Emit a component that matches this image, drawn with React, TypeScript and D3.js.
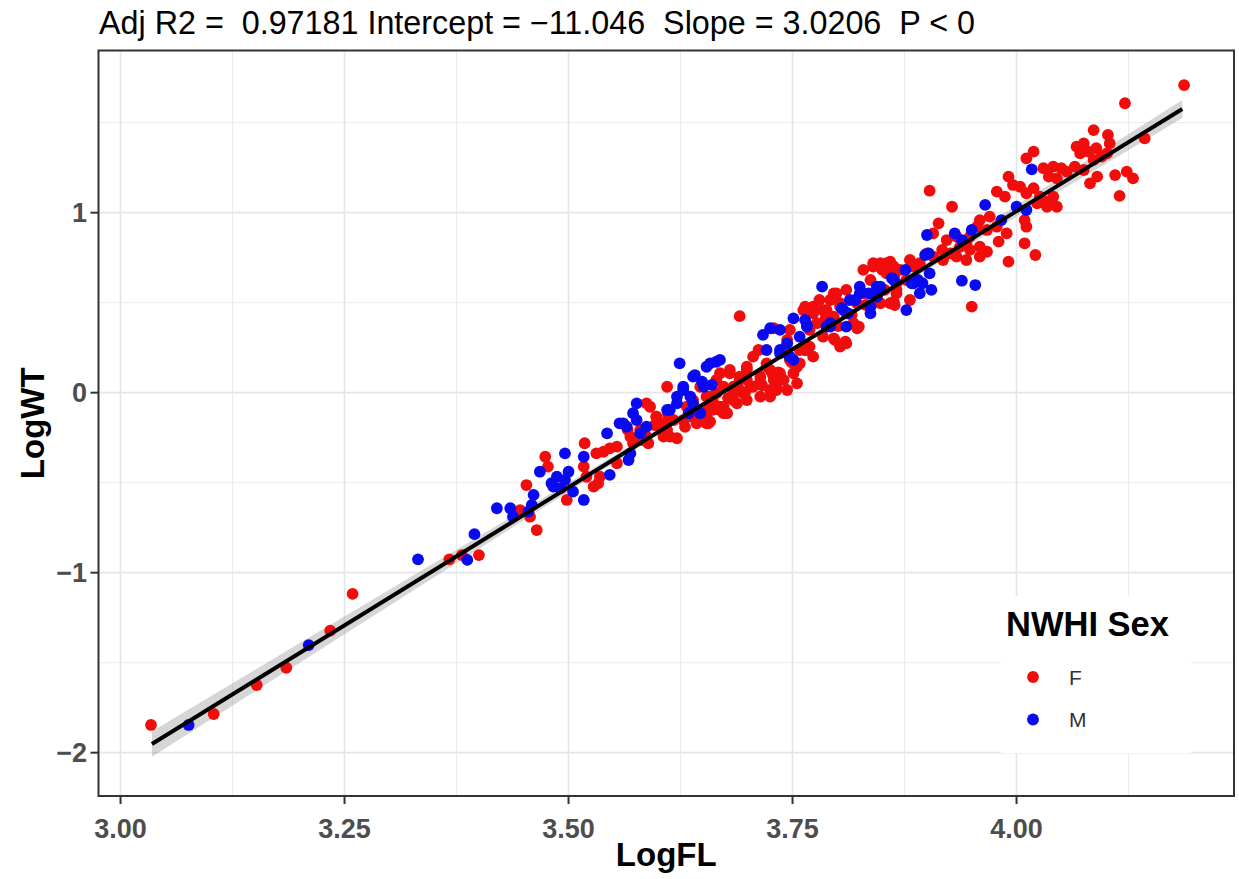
import React from "react";
import * as d3 from "d3";

// ---------- data ----------
const xTickValues = [3.0, 3.25, 3.5, 3.75, 4.0];
const xTickLabels = ["3.00", "3.25", "3.50", "3.75", "4.00"];
const xMinorValues = [3.125, 3.375, 3.625, 3.875, 4.125];
const yTickValues = [-2, -1, 0, 1];
const yTickLabels = ["\u22122", "\u22121", "0", "1"];
const yMinorValues = [-1.5, -0.5, 0.5, 1.5];
const xDomain = [2.9754, 4.2427];
const yDomain = [-2.2406, 1.901];

const titleText = "Adj R2 =  0.97181 Intercept = \u221211.046  Slope = 3.0206  P < 0";
const legendTitle = "NWHI Sex";
const sexLevels = ["F", "M"];

// [LogFL, LogWT]
const femalePts: [number, number][] = [
  [3.034, -1.846], [3.104, -1.785], [3.152, -1.624], [3.185, -1.528], [3.234, -1.322], [3.259, -1.118],
  [3.367, -0.926], [3.381, -0.902], [3.4, -0.902], [3.4645, -0.763],
  [3.446, -0.652], [3.457, -0.689], [3.453, -0.513], [3.474, -0.356], [3.477, -0.411], [3.498, -0.596],
  [3.518, -0.281], [3.517, -0.411], [3.52, -0.467], [3.528, -0.522], [3.533, -0.503], [3.535, -0.467],
  [3.531, -0.337], [3.539, -0.328], [3.546, -0.309], [3.554, -0.3], [3.554, -0.392], [3.569, -0.244],
  [3.572, -0.281], [3.58, -0.207], [3.587, -0.244], [3.589, -0.281], [3.591, -0.078], [3.598, -0.133],
  [3.606, -0.17], [3.61, -0.207], [3.606, -0.244], [3.61, 0.033], [3.621, -0.253], [3.617, -0.152],
  [3.628, -0.152], [3.636, -0.133], [3.647, -0.096], [3.647, 0.033], [3.654, -0.022], [3.662, -0.059],
  [3.669, -0.096], [3.675, -0.114], [3.656, -0.17], [3.669, 0.108], [3.68, 0.126], [3.684, 0.033],
  [3.691, 0.089], [3.699, 0.144], [3.706, 0.2], [3.712, 0.237], [3.721, 0.163], [3.673, -0.078],
  [3.684, -0.041], [3.695, -0.003], [3.703, 0.033], [3.714, 0.061], [3.725, 0.015], [3.729, 0.358],
  [3.747, 0.349], [3.744, 0.293], [3.725, 0.126], [3.728, 0.1], [3.691, 0.425],
  [3.762, 0.459], [3.773, 0.478], [3.784, 0.459], [3.796, 0.552], [3.803, 0.497], [3.81, 0.441],
  [3.818, 0.386], [3.796, 0.302], [3.809, 0.283], [3.822, 0.358], [3.766, 0.256], [3.773, 0.2],
  [3.758, 0.163], [3.829, 0.682], [3.84, 0.7], [3.848, 0.719], [3.859, 0.728], [3.863, 0.644],
  [3.859, 0.497], [3.866, 0.571], [3.822, 0.497], [3.848, 0.497], [3.863, 0.506], [3.855, 0.663],
  [3.863, 0.7], [3.866, 0.608],
  [3.74, 0.237], [3.747, 0.182], [3.755, 0.144], [3.751, 0.108], [3.74, 0.071], [3.732, 0.033],
  [3.725, -0.022], [3.744, 0.015], [3.755, 0.052],
  [3.665, 0.071], [3.673, 0.033], [3.68, 0.108], [3.684, -0.003], [3.691, 0.071], [3.699, 0.126],
  [3.706, 0.033], [3.714, 0.089], [3.721, 0.144], [3.729, 0.071], [3.736, 0.108], [3.732, 0.015],
  [3.714, -0.022], [3.699, -0.041], [3.688, -0.059], [3.673, -0.114], [3.658, -0.022], [3.654, -0.133],
  [3.587, -0.059], [3.598, -0.133], [3.602, -0.189], [3.617, -0.152], [3.613, -0.244], [3.632, -0.078],
  [3.639, -0.041], [3.643, -0.17], [3.654, -0.17], [3.658, -0.078], [3.665, -0.003], [3.677, -0.114],
  [3.669, -0.078], [3.691, 0.015], [3.699, 0.071], [3.658, -0.161],
  [3.566, -0.207], [3.582, -0.263], [3.596, -0.18], [3.611, -0.124], [3.63, -0.19], [3.644, -0.152],
  [3.66, -0.096], [3.678, -0.03], [3.697, 0.002], [3.716, 0.041], [3.734, 0.113], [3.749, 0.169],
  [3.764, 0.235], [3.787, 0.415], [3.801, 0.37], [3.816, 0.432], [3.832, 0.487],
  [4.187, 1.709], [4.121, 1.608], [4.143, 1.413], [4.086, 1.459], [4.102, 1.432], [4.104, 1.385],
  [4.067, 1.367], [4.075, 1.385], [4.08, 1.339], [4.089, 1.358], [4.095, 1.311], [4.101, 1.33],
  [4.071, 1.33], [4.086, 1.293], [4.065, 1.256], [4.075, 1.237], [4.11, 1.209], [4.123, 1.228],
  [4.13, 1.191], [4.115, 1.093], [4.082, 1.163], [4.09, 1.2], [4.019, 1.339], [4.011, 1.302],
  [4.03, 1.247], [4.041, 1.256], [4.05, 1.247], [4.036, 1.2], [4.045, 1.191], [4.056, 1.228],
  [3.991, 1.2], [3.978, 1.117], [3.987, 1.089], [3.996, 1.154], [4.004, 1.144], [4.011, 1.108],
  [4.019, 1.136], [4.026, 1.089], [4.034, 1.061], [4.041, 1.089], [4.045, 1.033], [4.034, 1.033],
  [4.023, 1.052], [4.009, 0.959], [4.011, 0.922], [4.009, 0.83], [4.021, 0.765], [3.991, 0.728],
  [3.903, 1.122], [3.928, 1.033],
  [3.959, 0.959], [3.97, 0.978], [3.978, 0.922], [3.989, 0.885], [3.98, 0.839], [3.967, 0.904],
  [3.956, 0.922], [3.948, 0.867], [3.959, 0.811], [3.944, 0.83], [3.933, 0.867], [3.922, 0.848],
  [3.913, 0.941], [3.907, 0.885], [3.917, 0.793], [3.926, 0.774], [3.937, 0.811], [3.948, 0.793],
  [3.907, 0.756], [3.918, 0.737], [3.933, 0.756], [3.944, 0.737], [3.959, 0.756], [3.967, 0.783],
  [3.855, 0.719], [3.87, 0.682], [3.885, 0.7], [3.877, 0.626], [3.863, 0.644], [3.95, 0.478],
  [3.881, 0.737], [3.892, 0.719], [3.9, 0.774], [3.861, 0.709], [3.85, 0.682], [3.866, 0.552],
  [3.864, 0.487], [3.881, 0.515], [3.84, 0.719], [3.837, 0.626], [3.829, 0.552], [3.844, 0.533],
  [3.853, 0.571], [3.81, 0.571], [3.799, 0.552], [3.792, 0.515], [3.803, 0.478], [3.796, 0.422],
  [3.824, 0.367], [3.809, 0.274], [3.797, 0.293], [3.764, 0.478], [3.773, 0.441], [3.78, 0.515],
  [3.788, 0.459], [3.777, 0.386], [3.769, 0.349], [3.784, 0.311], [3.744, 0.219], [3.758, 0.237],
  [3.769, 0.256], [3.803, 0.256], [3.81, 0.274]
];

const malePts: [number, number][] = [
  [3.076, -1.846], [3.21, -1.402], [3.332, -0.926], [3.387, -0.929], [3.395, -0.786],
  [3.42, -0.642], [3.435, -0.642], [3.438, -0.689], [3.455, -0.661], [3.459, -0.624], [3.461, -0.568],
  [3.468, -0.439], [3.481, -0.503], [3.487, -0.467], [3.483, -0.522], [3.491, -0.531], [3.496, -0.485],
  [3.5, -0.439], [3.496, -0.337], [3.505, -0.55], [3.517, -0.596], [3.517, -0.356], [3.543, -0.226],
  [3.546, -0.457], [3.557, -0.17], [3.565, -0.189], [3.572, -0.114], [3.576, -0.152], [3.569, -0.337],
  [3.567, -0.374], [3.58, -0.226], [3.587, -0.189], [3.613, -0.096], [3.621, -0.059], [3.628, 0.015],
  [3.636, -0.022], [3.639, -0.059], [3.624, 0.163], [3.641, 0.098], [3.649, 0.061], [3.654, 0.144],
  [3.665, 0.172], [3.66, 0.043], [3.717, 0.321], [3.725, 0.358], [3.736, 0.349], [3.721, 0.237],
  [3.736, 0.219], [3.751, 0.182],
  [3.783, 0.589], [3.766, 0.376], [3.792, 0.367], [3.807, 0.459], [3.814, 0.515], [3.825, 0.552],
  [3.837, 0.441], [3.844, 0.533], [3.848, 0.589], [3.861, 0.636], [3.764, 0.404], [3.751, 0.413],
  [3.736, 0.237], [3.747, 0.2],
  [3.561, -0.17], [3.576, -0.059], [3.61, -0.096], [3.621, -0.022], [3.628, 0.033], [3.639, 0.089],
  [3.651, 0.033], [3.669, 0.182], [3.658, 0.163], [3.647, -0.114], [3.634, -0.114],
  [4.017, 1.241], [4.0, 1.033], [4.011, 1.015], [3.965, 1.043], [3.983, 0.959], [3.9, 0.876],
  [3.902, 0.774], [3.931, 0.885], [3.939, 0.848], [3.95, 0.904], [3.939, 0.622], [3.954, 0.598],
  [3.898, 0.765], [3.903, 0.663], [3.885, 0.608], [3.863, 0.626], [3.895, 0.608],
  [3.877, 0.459], [3.89, 0.626], [3.905, 0.571], [3.892, 0.552], [3.876, 0.682], [3.883, 0.608],
  [3.825, 0.589], [3.835, 0.552], [3.844, 0.589], [3.837, 0.478], [3.82, 0.515], [3.812, 0.441],
  [3.744, 0.274], [3.758, 0.311], [3.766, 0.367], [3.788, 0.367], [3.792, 0.386], [3.805, 0.469],
  [3.81, 0.367]
];

// fitted line end points and confidence band [x, lower, upper]
const fitLine: [number, number][] = [[3.035, -1.952], [4.185, 1.576]];
const ribbon: [number, number, number][] = [
  [3.035, -2.022, -1.882], [3.2, -1.501, -1.391], [3.4, -0.867, -0.797], [3.6, -0.235, -0.203],
  [3.72, 0.14, 0.16], [3.85, 0.532, 0.564], [4.0, 0.977, 1.041], [4.185, 1.526, 1.626]
];

const sexColors = ["#f20d0d", "#0a0af0"];

// ---------- layout ----------
const W = 1239, H = 879;
const P = { left: 98.5, top: 50.5, right: 1234, bottom: 796 };
const FONT = "'Liberation Sans', Arial, Helvetica, sans-serif";

export default function App() {
  const x = d3.scaleLinear().domain(xDomain).range([P.left, P.right]);
  const y = d3.scaleLinear().domain(yDomain).range([P.bottom, P.top]);
  const area = d3.area<[number, number, number]>()
    .x(d => x(d[0])).y0(d => y(d[1])).y1(d => y(d[2])).curve(d3.curveMonotoneX);
  const line = d3.line<[number, number]>().x(d => x(d[0])).y(d => y(d[1]));
  const r = 5.9;
  const legX = 1033, legY0 = 677, legDy = 42.5;

  return (
    <svg width={W} height={H} style={{ position: "absolute", left: 0, top: 0, background: "#fff" }}
      fontFamily={FONT}>
      <rect x={0} y={0} width={W} height={H} fill="#fff" />
      <text x={99} y={34} fontSize={32.3} fill="#000" style={{ whiteSpace: "pre" }}>{titleText}</text>
      <defs>
        <clipPath id="panel"><rect x={P.left} y={P.top} width={P.right - P.left} height={P.bottom - P.top} /></clipPath>
      </defs>
      {/* grid */}
      <g>
        {xMinorValues.map(v => <line key={"xm" + v} x1={x(v)} x2={x(v)} y1={P.top} y2={P.bottom} stroke="#ebebeb" strokeWidth={1} />)}
        {yMinorValues.map(v => <line key={"ym" + v} y1={y(v)} y2={y(v)} x1={P.left} x2={P.right} stroke="#ebebeb" strokeWidth={1} />)}
        {xTickValues.map(v => <line key={"xM" + v} x1={x(v)} x2={x(v)} y1={P.top} y2={P.bottom} stroke="#e6e6e6" strokeWidth={1.8} />)}
        {yTickValues.map(v => <line key={"yM" + v} y1={y(v)} y2={y(v)} x1={P.left} x2={P.right} stroke="#e6e6e6" strokeWidth={1.8} />)}
      </g>
      <g clipPath="url(#panel)">
        <path d={area(ribbon) || ""} fill="#999" opacity={0.4} />
        {femalePts.map((d, i) => <circle key={"f" + i} cx={x(d[0])} cy={y(d[1])} r={r} fill={sexColors[0]} />)}
        {malePts.map((d, i) => <circle key={"m" + i} cx={x(d[0])} cy={y(d[1])} r={r} fill={sexColors[1]} />)}
        <path d={line(fitLine) || ""} stroke="#000" strokeWidth={4} fill="none" />
      </g>
      {/* legend */}
      <rect x={1001} y={596} width={190} height={157} fill="#fff" />
      <text x={1006} y={636} fontSize={34.5} fontWeight="bold" fill="#000">{legendTitle}</text>
      {sexLevels.map((s, i) => (
        <g key={s}>
          <circle cx={legX} cy={legY0 + i * legDy} r={5.9} fill={sexColors[i]} />
          <text x={1069} y={legY0 + i * legDy + 7.5} fontSize={21} fill="#333">{s}</text>
        </g>
      ))}
      {/* panel border */}
      <rect x={P.left} y={P.top} width={P.right - P.left} height={P.bottom - P.top} fill="none" stroke="#333" strokeWidth={2} />
      {/* x axis */}
      {xTickValues.map((v, i) => (
        <g key={"xt" + v}>
          <line x1={x(v)} x2={x(v)} y1={P.bottom} y2={P.bottom + 8} stroke="#333" strokeWidth={2} />
          <text x={x(v)} y={838} textAnchor="middle" fontSize={27} fontWeight="bold" fill="#4d4d4d">{xTickLabels[i]}</text>
        </g>
      ))}
      {yTickValues.map((v, i) => (
        <g key={"yt" + v}>
          <line x1={P.left - 8} x2={P.left} y1={y(v)} y2={y(v)} stroke="#333" strokeWidth={2} />
          <text x={87} y={y(v) + 9.5} textAnchor="end" fontSize={27} fontWeight="bold" fill="#4d4d4d">{yTickLabels[i]}</text>
        </g>
      ))}
      <text x={(P.left + P.right) / 2} y={866} textAnchor="middle" fontSize={33} fontWeight="bold" fill="#000">LogFL</text>
      <text transform={`translate(44, ${(P.top + P.bottom) / 2}) rotate(-90)`} textAnchor="middle" fontSize={33} fontWeight="bold" fill="#000">LogWT</text>
    </svg>
  );
}
